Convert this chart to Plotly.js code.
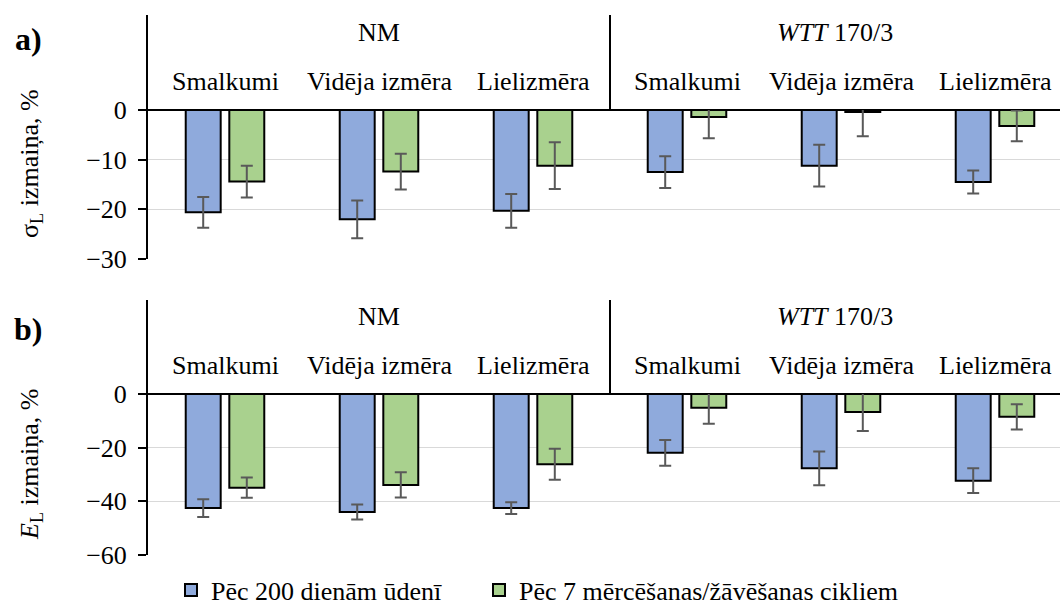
<!DOCTYPE html>
<html>
<head>
<meta charset="utf-8">
<script src="https://cdn.plot.ly/plotly-3.0.1.min.js"></script>
<style>
  html, body { margin: 0; padding: 0; background: #fff; }
  #chart { width: 1060px; height: 602px; }
</style>
</head>
<body>
<div id="chart"></div>
<script>
// Material groups and fraction sizes (six categories, left to right)
const groups = ['NM', '<i>WTT</i> 170/3'];
const sizes = ['Smalkumi', 'Vidēja izmēra', 'Lielizmēra'];
const seriesNames = ['Pēc 200 dienām ūdenī', 'Pēc 7 mērcēšanas/žāvēšanas cikliem'];

// a) change of tensile strength sigma_L, %
const sigmaWater    = [-20.6, -22.0, -20.3, -12.5, -11.2, -14.5];
const sigmaWaterErr = [3.1, 3.8, 3.4, 3.2, 4.2, 2.3];
const sigmaCycles    = [-14.4, -12.4, -11.2, -1.4, -0.4, -3.2];
const sigmaCyclesErr = [3.2, 3.6, 4.7, 4.3, 4.9, 3.1];

// b) change of modulus E_L, %
const modWater    = [-42.5, -44.0, -42.5, -21.9, -27.7, -32.3];
const modWaterErr = [3.3, 2.8, 2.2, 4.8, 6.3, 4.6];
const modCycles    = [-34.9, -33.9, -26.2, -5.1, -6.7, -8.5];
const modCyclesErr = [3.8, 4.7, 5.8, 6.0, 7.1, 4.7];

const ticksA = [0, -10, -20, -30];
const ticksB = [0, -20, -40, -60];

const W = 1060, H = 602;
const px = v => v / W;          // horizontal pixel -> paper
const py = v => 1 - v / H;      // vertical pixel (from top) -> paper

const FONT = "Liberation Serif, Times New Roman, serif";
const BLUE = '#8faadc';
const GREEN = '#a9d18e';

// one category slot per (group, size) pair
const cats = [];
groups.forEach(g => sizes.forEach(s => cats.push({ group: g, size: s })));
const xs = cats.map((_, i) => i);

const BAR_W = 0.227;
function barTrace(vals, errs, name, color, offset, xa, ya, legendId) {
  return {
    type: 'bar', x: xs, y: vals, name: name,
    xaxis: xa, yaxis: ya,
    width: BAR_W, offset: offset,
    marker: { color: color, line: { color: '#000', width: 2 } },
    error_y: { type: 'data', array: errs, visible: true, color: '#595959', thickness: 2, width: 6 },
    showlegend: !!legendId, legend: legendId || 'legend',
    hoverinfo: 'skip'
  };
}

const data = [
  barTrace(sigmaWater, sigmaWaterErr, seriesNames[0], BLUE, -0.255, 'x', 'y', 'legend'),
  barTrace(sigmaCycles, sigmaCyclesErr, seriesNames[1], GREEN, 0.028, 'x', 'y', 'legend2'),
  barTrace(modWater, modWaterErr, seriesNames[0], BLUE, -0.255, 'x2', 'y2', null),
  barTrace(modCycles, modCyclesErr, seriesNames[1], GREEN, 0.028, 'x2', 'y2', null)
];

const xRange = [-0.5, -0.5 + (W - 148) / 154];
const xBase = {
  range: xRange, domain: [px(148), 1],
  showticklabels: false, showgrid: false, zeroline: false, showline: false, ticks: '', fixedrange: true
};
function yAxis(ticks, domain, anchor) {
  return {
    range: [ticks[ticks.length - 1], 0], domain: domain, anchor: anchor,
    tickvals: ticks, ticktext: ticks.map(t => t === 0 ? '0' : '\u2212' + Math.abs(t)),
    showgrid: true, gridcolor: '#d9d9d9', gridwidth: 1.5,
    zeroline: true, zerolinecolor: '#000', zerolinewidth: 1.5,
    showline: true, linecolor: '#000', linewidth: 2,
    ticks: 'outside', ticklen: 8, tickwidth: 2, tickcolor: '#000',
    ticklabelstandoff: 6,
    tickfont: { family: FONT, size: 26, color: '#000' },
    fixedrange: true
  };
}

// panel geometry in pixels: top of the header area, zero line, bottom of the value axis
const panels = [
  { top: 15, zero: 110, bottom: 259, xref: 'x', letter: 'a)', letterY: 39,
    title: 'σ<sub>L</sub> izmaiņa, %', titleY: 164 },
  { top: 300, zero: 394, bottom: 555, xref: 'x2', letter: 'b)', letterY: 329,
    title: '<i>E</i><sub>L</sub> izmaiņa, %', titleY: 465 }
];

const shapes = [];
const annotations = [];
panels.forEach(p => {
  // value axis continues up through the header rows
  shapes.push({ type: 'line', xref: 'paper', yref: 'paper',
    x0: px(147), x1: px(147), y0: py(p.zero), y1: py(p.top),
    line: { color: '#000', width: 2 } });
  // divider between the two material groups
  shapes.push({ type: 'line', xref: p.xref, yref: 'paper',
    x0: sizes.length - 0.5, x1: sizes.length - 0.5, y0: py(p.zero), y1: py(p.top),
    line: { color: '#000', width: 2 } });
  // size labels
  cats.forEach((c, i) => annotations.push({
    xref: p.xref, yref: 'paper', x: i, y: py(p.zero - 29), xanchor: 'center', yanchor: 'middle',
    text: c.size, showarrow: false, font: { family: FONT, size: 26, color: '#000' }
  }));
  // group labels
  groups.forEach((g, gi) => annotations.push({
    xref: p.xref, yref: 'paper', x: gi * sizes.length + (sizes.length - 1) / 2,
    xshift: gi === 1 ? -6 : 0,
    y: py(p.zero - 78), xanchor: 'center', yanchor: 'middle',
    text: g, showarrow: false, font: { family: FONT, size: 26, color: '#000' }
  }));
  // panel letter
  annotations.push({ xref: 'paper', yref: 'paper', x: px(28), y: py(p.letterY),
    xanchor: 'center', yanchor: 'middle', text: '<b>' + p.letter + '</b>', showarrow: false,
    font: { family: FONT, size: 32, color: '#000' } });
  // value axis title
  annotations.push({ xref: 'paper', yref: 'paper', x: px(31), y: py(p.titleY),
    xanchor: 'center', yanchor: 'middle', textangle: -90, text: p.title, showarrow: false,
    font: { family: FONT, size: 26, color: '#000' } });
});

const legendBase = {
  orientation: 'h', xanchor: 'left', y: py(590), yanchor: 'middle',
  font: { family: FONT, size: 26, color: '#000' },
  bgcolor: 'rgba(0,0,0,0)', borderwidth: 0
};

const layout = {
  width: W, height: H,
  margin: { l: 0, r: 0, t: 0, b: 0, autoexpand: false },
  paper_bgcolor: '#fff', plot_bgcolor: '#fff',
  barmode: 'overlay',
  font: { family: FONT, size: 26, color: '#000' },
  xaxis: Object.assign({ anchor: 'y' }, xBase),
  xaxis2: Object.assign({ anchor: 'y2' }, xBase),
  yaxis: yAxis(ticksA, [py(259), py(110)], 'x'),
  yaxis2: yAxis(ticksB, [py(555), py(394)], 'x2'),
  showlegend: true,
  legend: Object.assign({ x: px(171) }, legendBase),
  legend2: Object.assign({ x: px(479) }, legendBase),
  shapes: shapes,
  annotations: annotations
};

Plotly.newPlot('chart', data, layout, { displayModeBar: false, staticPlot: true });
</script>
</body>
</html>
